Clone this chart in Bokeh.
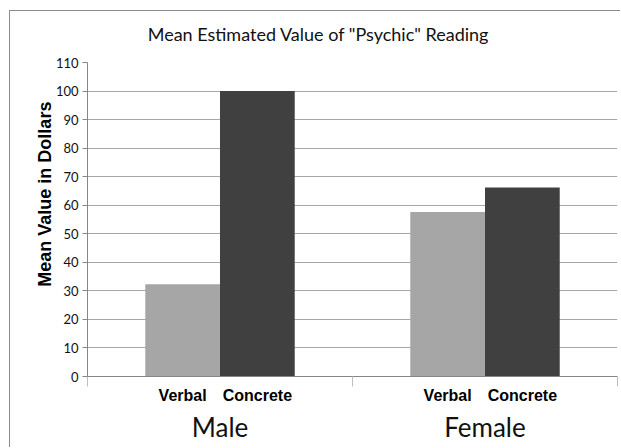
import math
from bokeh.plotting import figure
from bokeh.models import (Range1d, LinearAxis, FixedTicker, SingleIntervalTicker,
                          ColumnDataSource)
from bokeh.embed import file_html
from bokeh.resources import INLINE

# ---- data ----
groups = ["Male", "Female"]
series = ["Verbal", "Concrete"]
verbal = [32.3, 57.6]
concrete = [100, 66.2]
y_ticks_max = 110
title_text = 'Mean Estimated Value of "Psychic" Reading'
y_label = "Mean Value in Dollars"
colors = ["#a6a6a6", "#404040"]

BAR_W = 0.282        # bar width in group units (style)
TITLE_X = 0.872      # title centre, in group units (style)
YLABEL_Y = 96.3      # anchor (upper end) of the y-axis title, in value units (style)

# positions on the group axis: group i spans [i, i+1]
centers = [i + 0.5 for i in range(len(groups))]
offsets = [-BAR_W / 2, BAR_W / 2]
series_vals = [verbal, concrete]

p = figure(width=611, height=437, x_range=Range1d(0, len(groups)), y_range=Range1d(0, y_ticks_max),
           output_backend="svg", toolbar_location=None, tools="",
           x_axis_location=None, y_axis_location=None,
           min_border_left=77, min_border_right=4, min_border_top=51, min_border_bottom=72)

p.styles = {"margin-left": "9px", "margin-top": "10px",
            "border-left": "1px solid #8c8c8c", "border-top": "1px solid #8c8c8c"}

sub_ticks = []
sub_labels = {}
for k, name in enumerate(series):
    xs = [c + offsets[k] for c in centers]
    src = ColumnDataSource(data=dict(x=xs, top=series_vals[k]))
    p.vbar(x="x", top="top", width=BAR_W, source=src, line_color=None, fill_color=colors[k])
    for x in xs:
        sub_ticks.append(x)
        sub_labels[x] = name


def bare(axis):
    axis.axis_line_color = None
    axis.major_tick_line_color = None
    axis.minor_tick_line_color = None
    axis.major_tick_in = 0
    axis.major_tick_out = 0
    axis.minor_tick_in = 0
    axis.minor_tick_out = 0
    return axis


# y axis
yaxis = LinearAxis(ticker=SingleIntervalTicker(interval=10))
yaxis.axis_line_color = "#868686"
yaxis.major_tick_line_color = "#868686"
yaxis.major_tick_in = 0
yaxis.major_tick_out = 5
yaxis.minor_tick_line_color = None
yaxis.major_label_text_font = "Lato"
yaxis.major_label_text_font_size = "13px"
yaxis.major_label_text_color = "#111111"
yaxis.major_label_standoff = 4
p.add_layout(yaxis, "left")

# y axis title (a bit above the frame centre, as in the original)
ytitle = bare(LinearAxis(ticker=FixedTicker(ticks=[YLABEL_Y]),
                         major_label_overrides={YLABEL_Y: y_label}))
ytitle.major_label_orientation = math.pi / 2
ytitle.major_label_standoff = 7
ytitle.major_label_text_font = "Liberation Sans"
ytitle.major_label_text_font_style = "bold"
ytitle.major_label_text_font_size = "18px"
ytitle.major_label_text_color = "#000000"
p.add_layout(ytitle, "left")

# series labels under the bars, group boundaries as minor ticks
boundaries = list(range(len(groups) + 1))
sub_axis = LinearAxis(ticker=FixedTicker(ticks=sub_ticks, minor_ticks=boundaries),
                      major_label_overrides=sub_labels)
sub_axis.axis_line_color = "#868686"
sub_axis.major_tick_line_color = None
sub_axis.major_tick_in = 0
sub_axis.major_tick_out = 3
sub_axis.minor_tick_line_color = "#bfbfbf"
sub_axis.minor_tick_in = 0
sub_axis.minor_tick_out = 10
sub_axis.major_label_standoff = 0
sub_axis.major_label_text_font = "Liberation Sans"
sub_axis.major_label_text_font_style = "bold"
sub_axis.major_label_text_font_size = "16px"
sub_axis.major_label_text_color = "#000000"
p.add_layout(sub_axis, "below")

# group labels
grp_axis = bare(LinearAxis(ticker=FixedTicker(ticks=centers),
                           major_label_overrides={c: g for c, g in zip(centers, groups)}))
grp_axis.major_label_standoff = 4
grp_axis.major_label_text_font = "Lato"
grp_axis.major_label_text_font_size = "26px"
grp_axis.major_label_text_color = "#111111"
p.add_layout(grp_axis, "below")

# chart title
title_axis = bare(LinearAxis(ticker=FixedTicker(ticks=[TITLE_X]),
                             major_label_overrides={TITLE_X: title_text}))
title_axis.major_label_standoff = 18
title_axis.major_label_text_font = "Lato"
title_axis.major_label_text_font_size = "18px"
title_axis.major_label_text_color = "#111111"
p.add_layout(title_axis, "above")

p.ygrid.grid_line_color = "#a6a6a6"
p.ygrid.ticker = yaxis.ticker
p.xgrid.grid_line_color = None
p.outline_line_color = None
p.background_fill_color = "white"
p.border_fill_color = "white"

open("out.html", "w").write(file_html(p, INLINE))
